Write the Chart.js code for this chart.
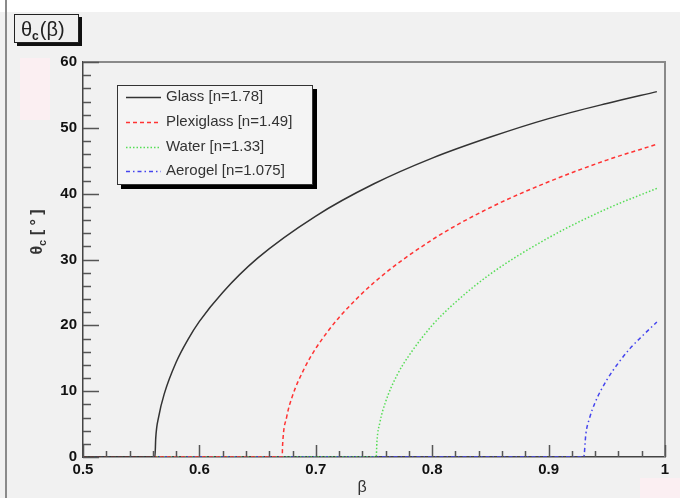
<!DOCTYPE html>
<html lang="en">
<head>
  <meta charset="UTF-8" />
  <title>Cherenkov angle vs beta</title>
  <script src="https://cdn.jsdelivr.net/npm/chart.js"></script>
  <style>
    html, body { margin: 0; padding: 0; background: #fff; }
    canvas { display: block; }
  </style>
</head>
<body>
  <canvas id="chart" width="680" height="498"></canvas>
  <script>
    // values (beta on x, theta_c in degrees on y)
    const betaGlass  = [0.5, 0.5618, 0.5625, 0.565, 0.57, 0.58, 0.59, 0.6, 0.62, 0.65, 0.7, 0.75, 0.8, 0.85, 0.9, 0.95, 0.993];
    const thetaGlass = [0, 0, 2.9, 6.1, 9.7, 14.4, 17.8, 20.6, 25.0, 30.2, 36.6, 41.5, 45.4, 48.6, 51.4, 53.7, 55.5];

    const betaPlexi  = [0.5, 0.6711, 0.6715, 0.675, 0.68, 0.69, 0.7, 0.71, 0.72, 0.75, 0.8, 0.85, 0.9, 0.95, 0.993];
    const thetaPlexi = [0, 0, 1.9, 6.1, 9.3, 13.4, 16.5, 19.0, 21.2, 26.5, 33.0, 37.9, 41.8, 45.1, 47.5];

    const betaWater  = [0.5, 0.7519, 0.7525, 0.755, 0.76, 0.77, 0.78, 0.8, 0.82, 0.85, 0.9, 0.95, 0.993];
    const thetaWater = [0, 0, 2.3, 5.2, 8.4, 12.5, 15.4, 20.0, 23.5, 27.8, 33.3, 37.7, 40.8];

    const betaAerogel  = [0.5, 0.9302, 0.932, 0.935, 0.94, 0.95, 0.96, 0.97, 0.98, 0.993];
    const thetaAerogel = [0, 0, 3.5, 5.8, 8.3, 11.7, 14.3, 16.5, 18.3, 20.5];

    const seriesLabels = ['Glass [n=1.78]', 'Plexiglass [n=1.49]', 'Water [n=1.33]', 'Aerogel [n=1.075]'];
    const xTicks = [0.5, 0.6, 0.7, 0.8, 0.9, 1];
    const xTickLabels = ['0.5', '0.6', '0.7', '0.8', '0.9', '1'];
    const yTicks = [0, 10, 20, 30, 40, 50, 60];

    const FONT = '"Liberation Sans", Arial, Helvetica, sans-serif';

    function pts(xs, ys) {
      return xs.map((x, i) => ({ x: x, y: ys[i] }));
    }

    const frame = {
      id: 'frame',
      beforeDraw(chart) {
        const c = chart.ctx;
        c.save();
        c.fillStyle = '#ffffff';
        c.fillRect(0, 0, 680, 498);
        c.fillStyle = '#f1f1f1';
        c.fillRect(0, 12, 680, 486);
        // faint pink patches
        c.fillStyle = '#fbeff2';
        c.fillRect(20, 58, 30, 62);
        c.fillRect(640, 478, 40, 20);
        // left border line
        c.fillStyle = '#8a8a8a';
        c.fillRect(5, 0, 2, 498);
        c.restore();
      },
      afterDraw(chart) {
        const c = chart.ctx;
        const a = chart.chartArea;
        const xs = chart.scales.x, ys = chart.scales.y;
        c.save();

        // top and right frame
        c.strokeStyle = '#8a8a8a';
        c.lineWidth = 2;
        c.beginPath();
        c.moveTo(a.left, a.top);
        c.lineTo(a.right, a.top);
        c.lineTo(a.right, a.bottom);
        c.stroke();

        // inner tick marks
        c.strokeStyle = '#555';
        c.lineWidth = 1.5;
        c.beginPath();
        for (let i = 0; i <= 25; i++) {
          const v = 0.5 + i * 0.02;
          const px = Math.round(xs.getPixelForValue(v)) + 0.5;
          const len = i % 5 === 0 ? 12 : 6;
          c.moveTo(px, a.bottom);
          c.lineTo(px, a.bottom - len);
        }
        for (let i = 0; i <= 30; i++) {
          const v = i * 2;
          const py = Math.round(ys.getPixelForValue(v)) + 0.5;
          const len = i % 5 === 0 ? 16 : 8;
          c.moveTo(a.left, py);
          c.lineTo(a.left + len, py);
        }
        c.stroke();

        // axis titles
        c.fillStyle = '#333';
        c.font = '16px ' + FONT;
        c.textAlign = 'center';
        c.textBaseline = 'middle';
        c.fillText('β', 362, 488);

        c.save();
        c.translate(38, 232);
        c.rotate(-Math.PI / 2);
        c.font = 'bold 16px ' + FONT;
        c.textAlign = 'left';
        c.textBaseline = 'middle';
        const t1 = 'θ';
        const w1 = c.measureText(t1).width;
        c.font = 'bold 11px ' + FONT;
        const w2 = c.measureText('c').width;
        c.font = 'bold 16px ' + FONT;
        const w3 = c.measureText(' [ ° ]').width;
        let x0 = -(w1 + w2 + w3) / 2;
        c.fillText(t1, x0, 0);
        c.font = 'bold 11px ' + FONT;
        c.fillText('c', x0 + w1, 5);
        c.font = 'bold 16px ' + FONT;
        c.fillText(' [ ° ]', x0 + w1 + w2, 0);
        c.restore();

        // title box
        c.fillStyle = '#111';
        c.fillRect(17, 17, 65, 29);
        c.fillStyle = '#f0f0f0';
        c.fillRect(14, 14, 65, 29);
        c.strokeStyle = '#222';
        c.lineWidth = 1;
        c.strokeRect(14.5, 14.5, 64, 28);
        c.fillStyle = '#222';
        c.textAlign = 'left';
        c.textBaseline = 'alphabetic';
        c.font = '20px ' + FONT;
        c.fillText('θ', 21, 36);
        const tw = c.measureText('θ').width;
        c.font = 'bold 12px ' + FONT;
        c.fillText('c', 21 + tw, 40);
        const cw = c.measureText('c').width;
        c.font = '20px ' + FONT;
        c.fillText('(β)', 21 + tw + cw + 1, 36);

        // legend
        const lx = 117, ly = 85, lw = 196, lh = 100;
        c.fillStyle = '#000';
        c.fillRect(lx + 4, ly + 4, lw, lh);
        c.fillStyle = '#f4f4f4';
        c.fillRect(lx, ly, lw, lh);
        c.strokeStyle = '#333';
        c.lineWidth = 1;
        c.strokeRect(lx + 0.5, ly + 0.5, lw - 1, lh - 1);
        const rows = [97, 122, 147, 171];
        chart.data.datasets.forEach((ds, i) => {
          const y = rows[i];
          c.strokeStyle = ds.borderColor;
          c.lineWidth = ds.borderWidth;
          c.setLineDash(ds.borderDash || []);
          c.beginPath();
          c.moveTo(126, y + 0.5);
          c.lineTo(161, y + 0.5);
          c.stroke();
          c.setLineDash([]);
          c.fillStyle = '#333';
          c.font = '15px ' + FONT;
          c.textBaseline = 'middle';
          c.fillText(ds.label, 166, y);
        });
        c.restore();
      }
    };

    new Chart(document.getElementById('chart').getContext('2d'), {
      type: 'scatter',
      data: {
        datasets: [
          { label: seriesLabels[0], data: pts(betaGlass, thetaGlass), borderColor: '#333333', borderWidth: 1.5 },
          { label: seriesLabels[1], data: pts(betaPlexi, thetaPlexi), borderColor: '#ff3333', borderWidth: 1.5, borderDash: [4, 3] },
          { label: seriesLabels[2], data: pts(betaWater, thetaWater), borderColor: '#55dd55', borderWidth: 1.5, borderDash: [1.5, 2] },
          { label: seriesLabels[3], data: pts(betaAerogel, thetaAerogel), borderColor: '#4444ee', borderWidth: 1.5, borderDash: [4, 3, 1.5, 3] }
        ].map(d => Object.assign(d, {
          showLine: true,
          pointRadius: 0,
          pointHoverRadius: 0,
          fill: false,
          cubicInterpolationMode: 'monotone'
        }))
      },
      options: {
        responsive: false,
        animation: false,
        devicePixelRatio: 1,
        layout: { padding: { top: 62, right: 15, left: 0, bottom: 0 } },
        plugins: { legend: { display: false }, tooltip: { enabled: false } },
        scales: {
          x: {
            type: 'linear', min: 0.5, max: 1,
            afterFit(s) { s.height = 41; },
            afterBuildTicks(s) { s.ticks = xTicks.map(v => ({ value: v })); },
            grid: { display: false, drawTicks: false },
            border: { display: true, color: '#444', width: 1.5 },
            ticks: {
              padding: 4, color: '#111', maxRotation: 0, autoSkip: false,
              font: { family: FONT, size: 15, weight: 'bold' },
              callback: (v, i) => xTickLabels[i]
            }
          },
          y: {
            type: 'linear', min: 0, max: 60,
            afterFit(s) { s.width = 83; },
            afterBuildTicks(s) { s.ticks = yTicks.map(v => ({ value: v })); },
            grid: { display: false, drawTicks: false },
            border: { display: true, color: '#444', width: 1.5 },
            ticks: {
              padding: 6, color: '#111', autoSkip: false,
              font: { family: FONT, size: 15, weight: 'bold' }
            }
          }
        }
      },
      plugins: [frame]
    });
  </script>
</body>
</html>
